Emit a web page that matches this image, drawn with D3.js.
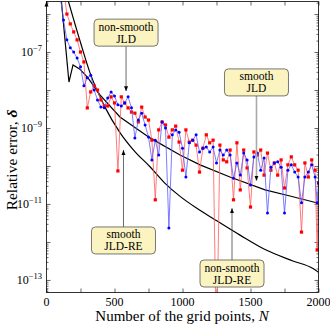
<!DOCTYPE html>
<html>
<head>
<meta charset="utf-8">
<script src="https://cdn.jsdelivr.net/npm/d3@7"></script>
<style>
body { margin: 0; background: #fff; }
svg { display: block; font-family: "Liberation Serif", serif; }
</style>
</head>
<body>
<div id="chart"></div>
<script>
// grid sizes N shared by the two noisy runs
var gridN = [100,125,150,175,200,225,250,275,300,325,350,375,400,425,450,475,500,525,550,575,
  600,625,650,675,700,725,750,775,800,825,850,875,900,925,950,975,1000,1025,1050,1075,
  1100,1125,1150,1175,1200,1225,1250,1275,1300,1325,1350,1375,1400,1425,1450,1475,1500,1525,1550,1575,
  1600,1625,1650,1675,1700,1725,1750,1775,1800,1825,1850,1875,1900,1925,1950,1975,1990,2000];

// log10 of the relative error, red squares
var redExp = [-4.58,-5.32,-6.00,-6.26,-6.47,-6.68,-7.00,-7.26,-8.47,-8.05,-7.89,-8.00,-8.26,-8.42,-8.42,-8.18,-8.34,-10.13,-8.18,-8.34,
  -8.47,-8.58,-8.61,-8.84,-8.45,-8.71,-8.79,-9.32,-10.89,-9.05,-8.84,-8.92,-9.24,-9.05,-8.95,-9.37,-10.11,-9.05,-9.37,-9.32,
  -9.45,-10.16,-9.53,-9.18,-9.39,-9.32,-15,-9.45,-9.84,-9.89,-9.58,-10.89,-9.39,-10.63,-9.58,-10.05,-11.08,-9.63,-9.71,-9.58,
  -10.24,-9.66,-10.11,-9.92,-10.24,-9.84,-10.58,-9.97,-9.76,-9.97,-10.11,-11.74,-9.92,-10.29,-9.84,-10.11,-12.21,-10.45];

// log10 of the relative error, blue circles
var blueExp = [-5.50,-6.16,-6.68,-6.89,-7.00,-7.16,-7.39,-7.89,-7.68,-7.61,-8.00,-8.26,-8.45,-8.47,-8.21,-8.05,-8.16,-8.39,-8.42,-8.34,
  -8.18,-8.47,-9.26,-8.79,-8.61,-8.92,-9.24,-9.84,-9.32,-9.71,-8.84,-9.00,-11.63,-9.18,-9.05,-9.11,-9.53,-10.29,-9.39,-9.32,
  -9.18,-9.63,-9.53,-9.50,-9.63,-9.50,-9.92,-9.58,-9.71,-9.58,-9.71,-10.32,-9.92,-10.24,-9.66,-9.84,-10.50,-9.76,-9.66,-10.11,
  -9.79,-11.24,-10.03,-9.92,-9.89,-10.03,-11.24,-10.11,-9.97,-10.16,-10.29,-10.97,-10.29,-10.16,-9.97,-10.29,-10.97,-10.45];

// smooth black curves (log10)
var upperN   = [100, 165, 195, 246, 305, 393, 540, 761, 982, 1129, 1349, 1607, 1790, 2000];
var upperExp = [-5.3, -7.79, -7.34, -7.45, -7.68, -8.13, -8.71, -9.26, -9.71, -9.97, -10.29, -10.63, -10.79, -10.98];
var lowerN   = [158, 250, 320, 430, 540, 650, 761, 870, 982, 1100, 1224, 1423, 1607, 1812, 1960, 2000];
var lowerExp = [-5.63, -6.75, -7.55, -8.45, -9.12, -9.62, -10.02, -10.45, -10.80, -11.10, -11.38, -11.82, -12.20, -12.50, -12.70, -12.80];

var xTicks = [0, 500, 1000, 1500, 2000];
var yLabelExps = [-13, -11, -9, -7];

// callouts in axis coordinates: box centre and arrow tip
var notes = [
  {lines: ["non-smooth", "JLD"],    bx: 585,  be: -6.49,  tx: 585,  te: -8.03,  light: false},
  {lines: ["smooth", "JLD"],        bx: 1544, be: -7.80,  tx: 1544, te: -10.39, light: true},
  {lines: ["smooth", "JLD-RE"],     bx: 566,  be: -11.96, tx: 566,  te: -9.58,  light: false},
  {lines: ["non-smooth", "JLD-RE"], bx: 1364, be: -12.83, tx: 1364, te: -11.11, light: false}
];

var width = 330, height = 326;
var plotL = 46.5, plotR = 318.5, plotT = 1.5, plotB = 292.5;

var x = d3.scaleLinear().domain([0, 2000]).range([plotL, plotR]);
var y = d3.scaleLog().domain([Math.pow(10, -13.33), Math.pow(10, -5.67)]).range([plotB, plotT]);

var svg = d3.select("#chart").append("svg")
  .attr("width", width)
  .attr("height", height);

var defs = svg.append("defs");
defs.append("clipPath").attr("id", "plotclip")
  .append("rect")
  .attr("x", plotL).attr("y", plotT)
  .attr("width", plotR - plotL).attr("height", plotB - plotT);

defs.append("marker")
  .attr("id", "tip")
  .attr("viewBox", "0 -5 10 10")
  .attr("refX", 10).attr("refY", 0)
  .attr("markerWidth", 5).attr("markerHeight", 5)
  .attr("markerUnits", "userSpaceOnUse")
  .attr("orient", "auto")
  .append("path")
  .attr("d", "M0,-4L10,0L0,4Z")
  .attr("fill", "#000");

//ticks, pointing inward on all four sides
var yMajor = d3.range(-13, -5).map(e => Math.pow(10, e));
var yMinor = [];
d3.range(-14, -5).forEach(e => {
  for (var k = 2; k <= 9; k++) {
    var v = k * Math.pow(10, e);
    if (v > y.domain()[0] && v < y.domain()[1]) yMinor.push(v);
  }
});
var xMinor = [250, 750, 1250, 1750];

function tickAxis(axis, values, size, tx, ty) {
  var g = svg.append("g")
    .attr("transform", "translate(" + tx + "," + ty + ")")
    .call(axis.tickValues(values).tickSize(size).tickSizeOuter(0).tickFormat(""));
  g.select(".domain").remove();
  g.selectAll("line").attr("stroke", "#000").attr("stroke-width", 0.6);
}
tickAxis(d3.axisLeft(y), yMajor, -4, plotL, 0);
tickAxis(d3.axisLeft(y), yMinor, -2, plotL, 0);
tickAxis(d3.axisRight(y), yMajor, -4, plotR, 0);
tickAxis(d3.axisRight(y), yMinor, -2, plotR, 0);
tickAxis(d3.axisBottom(x), xTicks, -4, 0, plotB);
tickAxis(d3.axisBottom(x), xMinor, -4, 0, plotB);
tickAxis(d3.axisTop(x), xTicks, -4, 0, plotT);
tickAxis(d3.axisTop(x), xMinor, -4, 0, plotT);

//data
function pts(ns, es) { return ns.map((n, i) => [n, Math.pow(10, es[i])]); }
var line = d3.line().x(d => x(d[0])).y(d => y(d[1]));
var smooth = d3.line().curve(d3.curveMonotoneX).x(d => x(d[0])).y(d => y(d[1]));

var plot = svg.append("g").attr("clip-path", "url(#plotclip)");

plot.append("path").datum(pts(upperN, upperExp))
  .attr("d", line).attr("fill", "none").attr("stroke", "#000").attr("stroke-width", 1.2);
plot.append("path").datum(pts(lowerN, lowerExp))
  .attr("d", smooth).attr("fill", "none").attr("stroke", "#000").attr("stroke-width", 1.2);

var red = pts(gridN, redExp);
plot.append("path").datum(red)
  .attr("d", line).attr("fill", "none").attr("stroke", "#ff5a5a").attr("stroke-width", 0.8);
plot.selectAll("rect.red").data(red).enter().append("rect")
  .attr("class", "red")
  .attr("x", d => x(d[0]) - 1.6).attr("y", d => y(d[1]) - 1.6)
  .attr("width", 3.2).attr("height", 3.2)
  .attr("fill", "#f00");

var blue = pts(gridN, blueExp);
plot.append("path").datum(blue)
  .attr("d", line).attr("fill", "none").attr("stroke", "#5a5aff").attr("stroke-width", 0.8);
plot.selectAll("circle.blue").data(blue).enter().append("circle")
  .attr("class", "blue")
  .attr("cx", d => x(d[0])).attr("cy", d => y(d[1]))
  .attr("r", 1.5)
  .attr("fill", "#00f");

//frame
svg.append("rect")
  .attr("x", plotL).attr("y", plotT)
  .attr("width", plotR - plotL).attr("height", plotB - plotT)
  .attr("fill", "none").attr("stroke", "#000").attr("stroke-width", 0.8);
svg.append("path")
  .attr("d", "M" + plotL + "," + (plotT + 5) + "L" + plotL + "," + plotT)
  .attr("stroke", "#000").attr("marker-end", "url(#tip)");

//callouts
var boxW = 64, boxH = 27;
notes.forEach(n => {
  var cx = x(n.bx), cy = y(Math.pow(10, n.be));
  var tx = x(n.tx), ty = y(Math.pow(10, n.te));
  var y0 = ty > cy ? cy + boxH / 2 : cy - boxH / 2;
  svg.append("line")
    .attr("x1", cx).attr("y1", y0).attr("x2", tx).attr("y2", ty)
    .attr("stroke", n.light ? "#aaa" : "#444")
    .attr("stroke-width", n.light ? 1.6 : 0.8)
    .attr("marker-end", "url(#tip)");
  svg.append("rect")
    .attr("x", cx - boxW / 2).attr("y", cy - boxH / 2)
    .attr("width", boxW).attr("height", boxH)
    .attr("rx", 4).attr("ry", 4)
    .attr("fill", "#fbf3c0").attr("stroke", "#555").attr("stroke-width", 0.8);
  n.lines.forEach((t, i) => {
    svg.append("text")
      .attr("x", cx).attr("y", cy + (i - 0.5) * 12 + 4)
      .attr("text-anchor", "middle")
      .attr("font-size", 11.5)
      .text(t);
  });
});

//tick labels
svg.selectAll("text.xl").data(xTicks).enter().append("text")
  .attr("class", "xl")
  .attr("x", d => x(d)).attr("y", 306)
  .attr("text-anchor", "middle")
  .attr("font-size", 12)
  .text(d => d);

yLabelExps.forEach(e => {
  var t = svg.append("text")
    .attr("x", 42).attr("y", y(Math.pow(10, e)) + 4)
    .attr("text-anchor", "end")
    .attr("font-size", 12);
  t.append("tspan").text("10");
  t.append("tspan").attr("dy", -5).attr("font-size", 8.5).text("\u2212" + (-e));
});

//axis titles
var xt = svg.append("text")
  .attr("x", 182).attr("y", 321)
  .attr("text-anchor", "middle")
  .attr("font-size", 15);
xt.append("tspan").text("Number of the grid points, ");
xt.append("tspan").attr("font-style", "italic").text("N");

var yt = svg.append("text")
  .attr("transform", "translate(17,160) rotate(-90)")
  .attr("text-anchor", "middle")
  .attr("font-size", 15.5);
yt.append("tspan").text("Relative error, ");
yt.append("tspan").attr("font-style", "italic").attr("font-weight", "bold").text("\u03b4");
</script>
</body>
</html>
